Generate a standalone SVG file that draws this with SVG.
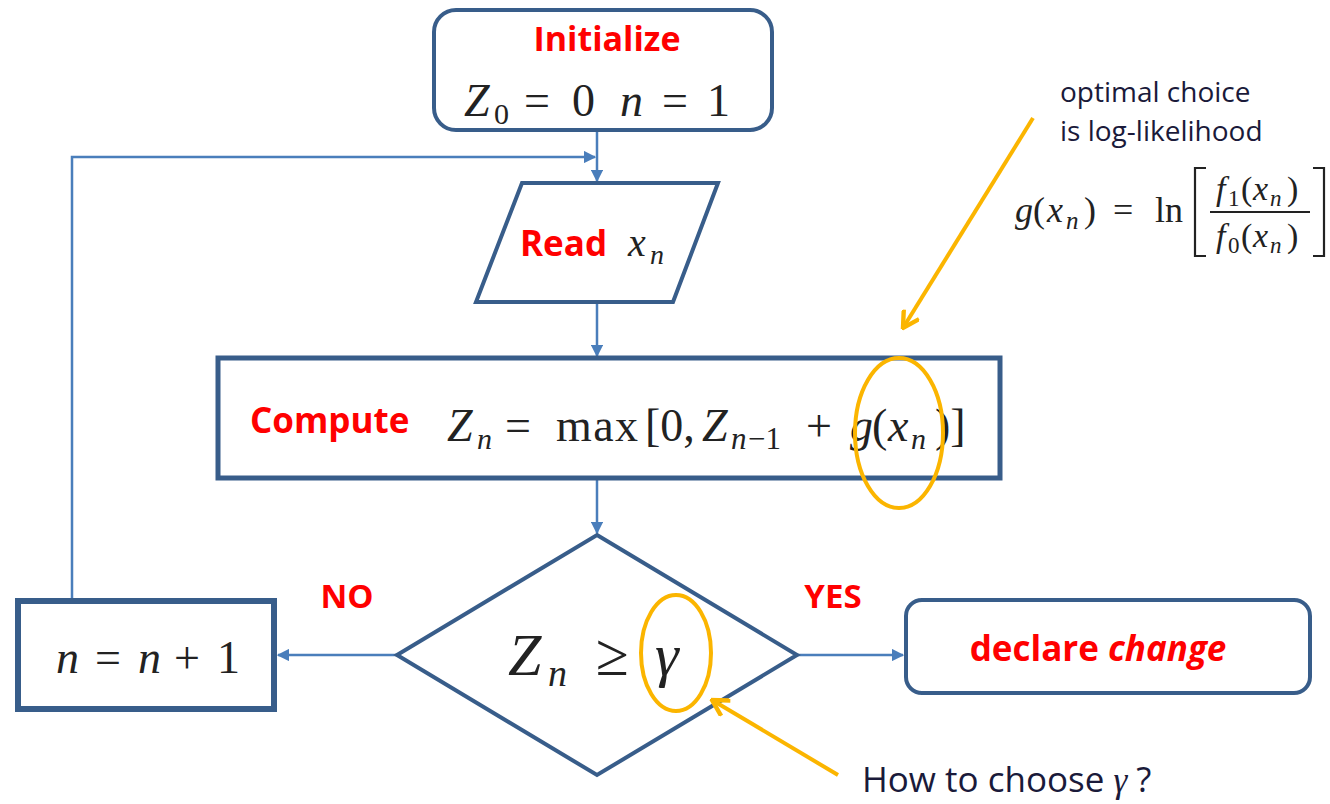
<svg xmlns="http://www.w3.org/2000/svg" width="1330" height="804" viewBox="0 0 1330 804">
<defs>
<style>
.box{fill:#fff;stroke:#385d8a;stroke-width:4}
.thick{fill:#fff;stroke:#385d8a;stroke-width:6}
.conn{fill:none;stroke:#4a7ebb;stroke-width:2.5}
.lbl{font-family:"Open Sans","Liberation Sans",sans-serif;font-weight:bold;fill:#ff0000}
.math{font-family:"Liberation Serif","DejaVu Serif",serif;fill:#222}
.it{font-style:italic}
.note{font-family:"Open Sans","Liberation Sans",sans-serif;fill:#1a1a3a}
.orange{fill:none;stroke:#fbb500;stroke-width:4}
</style>
<marker id="ah" viewBox="0 0 10 10" refX="9" refY="5" markerWidth="5" markerHeight="5" orient="auto" markerUnits="strokeWidth">
<path d="M0,0 L10,5 L0,10 Z" fill="#4a7ebb"/>
</marker>
<marker id="oh" viewBox="0 0 10 10" refX="9" refY="5" markerWidth="5" markerHeight="5" orient="auto" markerUnits="strokeWidth">
<path d="M1,0.5 L9,5 L1,9.5" fill="none" stroke="#fbb500" stroke-width="2.2"/>
</marker>
</defs>
<rect width="1330" height="804" fill="#fff"/>

<g id="connectors">
<path class="conn" d="M597,130 V181" marker-end="url(#ah)"/>
<path class="conn" d="M72,600 V157 H595" marker-end="url(#ah)"/>
<path class="conn" d="M597,303 V356" marker-end="url(#ah)"/>
<path class="conn" d="M597,478 V533" marker-end="url(#ah)"/>
<path class="conn" d="M397,655 H278" marker-end="url(#ah)"/>
<path class="conn" d="M797,655 H903" marker-end="url(#ah)"/>
</g>

<g id="initialize">
<rect class="box" x="434" y="10" width="338" height="120" rx="22"/>
<text class="lbl" x="607" y="51" font-size="34" text-anchor="middle">Initialize</text>
<g class="math" font-size="46">
<text class="it" x="464" y="116">Z</text>
<text x="494" y="124" font-size="30">0</text>
<text x="524" y="116">=</text>
<text x="572" y="116">0</text>
<text class="it" x="620" y="116">n</text>
<text x="662" y="116">=</text>
<text x="707" y="116">1</text>
</g>
</g>

<g id="read">
<polygon class="box" points="522,183 718,183 673,302 476,302"/>
<text class="lbl" x="520" y="256" font-size="35">Read</text>
<text class="math it" x="628" y="256" font-size="40">x</text>
<text class="math it" x="650" y="264" font-size="28">n</text>
</g>

<g id="compute">
<rect x="218" y="358" width="782" height="120" fill="#fff" stroke="#385d8a" stroke-width="5"/>
<text class="lbl" x="250" y="433" font-size="35">Compute</text>
<g class="math" font-size="46">
<text class="it" x="447" y="441">Z</text>
<text class="it" x="477" y="449" font-size="30">n</text>
<text x="505" y="441">=</text>
<text x="556" y="441" textLength="82">max</text>
<text x="645" y="441">[0,</text>
<text class="it" x="702" y="441">Z</text>
<text class="it" x="731" y="449" font-size="31">n</text>
<text x="748" y="449" font-size="31">−1</text>
<text x="806" y="441">+</text>
<text class="it" x="850" y="441">g</text>
<text x="872" y="441">(</text>
<text class="it" x="888" y="441">x</text>
<text class="it" x="911" y="449" font-size="30">n</text>
<text x="935" y="441">)]</text>
</g>
</g>

<g id="decision">
<polygon points="597,535 797,655 597,775 397,655" fill="#fff" stroke="#385d8a" stroke-width="4"/>
<g class="math" font-size="60">
<text class="it" x="508" y="675">Z</text>
<text class="it" x="548" y="686" font-size="38">n</text>
<text x="596" y="675">≥</text>
<text class="it" x="655" y="675">γ</text>
</g>
</g>

<g id="increment">
<rect class="thick" x="18" y="601" width="256" height="108"/>
<g class="math" font-size="46">
<text class="it" x="56" y="673">n</text>
<text x="95" y="673">=</text>
<text class="it" x="138" y="673">n</text>
<text x="174" y="673">+</text>
<text x="217" y="673">1</text>
</g>
</g>

<g id="declare">
<rect class="box" x="906" y="600" width="404" height="93" rx="16"/>
<text class="lbl" x="1098" y="661" font-size="35" text-anchor="middle">declare <tspan font-style="italic">change</tspan></text>
</g>

<g id="labels">
<text class="lbl" x="347" y="608" font-size="33" text-anchor="middle">NO</text>
<text class="lbl" x="833" y="608" font-size="33" text-anchor="middle">YES</text>
</g>

<g id="annotations">
<ellipse class="orange" cx="899" cy="433" rx="44" ry="75"/>
<ellipse class="orange" cx="676" cy="653" rx="35" ry="58"/>
<line class="orange" x1="1033" y1="118" x2="903" y2="328" marker-end="url(#oh)"/>
<line class="orange" x1="838" y1="775" x2="712" y2="700" marker-end="url(#oh)"/>
<text class="note" x="1060" y="102" font-size="28">optimal choice</text>
<text class="note" x="1060" y="141" font-size="28">is log-likelihood</text>
<g class="math" font-size="36">
<text class="it" x="1015" y="222">g</text>
<text x="1033" y="222">(</text>
<text class="it" x="1047" y="222">x</text>
<text class="it" x="1066" y="229" font-size="25">n</text>
<text x="1084" y="222">)</text>
<text x="1113" y="222">=</text>
<text x="1155" y="222">ln</text>
</g>
<path d="M1206,168 H1195 V256 H1206 M1313,168 H1324 V256 H1313" fill="none" stroke="#222" stroke-width="2.2"/>
<line x1="1210" y1="212" x2="1310" y2="212" stroke="#222" stroke-width="2"/>
<g class="math" font-size="34">
<text class="it" x="1216" y="200">f</text>
<text x="1228" y="206" font-size="23">1</text>
<text x="1241" y="200">(</text>
<text class="it" x="1253" y="200">x</text>
<text class="it" x="1270" y="206" font-size="23">n</text>
<text x="1287" y="200">)</text>
<text class="it" x="1216" y="247">f</text>
<text x="1228" y="253" font-size="23">0</text>
<text x="1241" y="247">(</text>
<text class="it" x="1253" y="247">x</text>
<text class="it" x="1270" y="253" font-size="23">n</text>
<text x="1287" y="247">)</text>
</g>
<text class="note" x="862" y="792" font-size="35" fill="#222">How to choose <tspan font-style="italic" font-family="Liberation Serif,serif">γ</tspan> ?</text>
</g>
</svg>
